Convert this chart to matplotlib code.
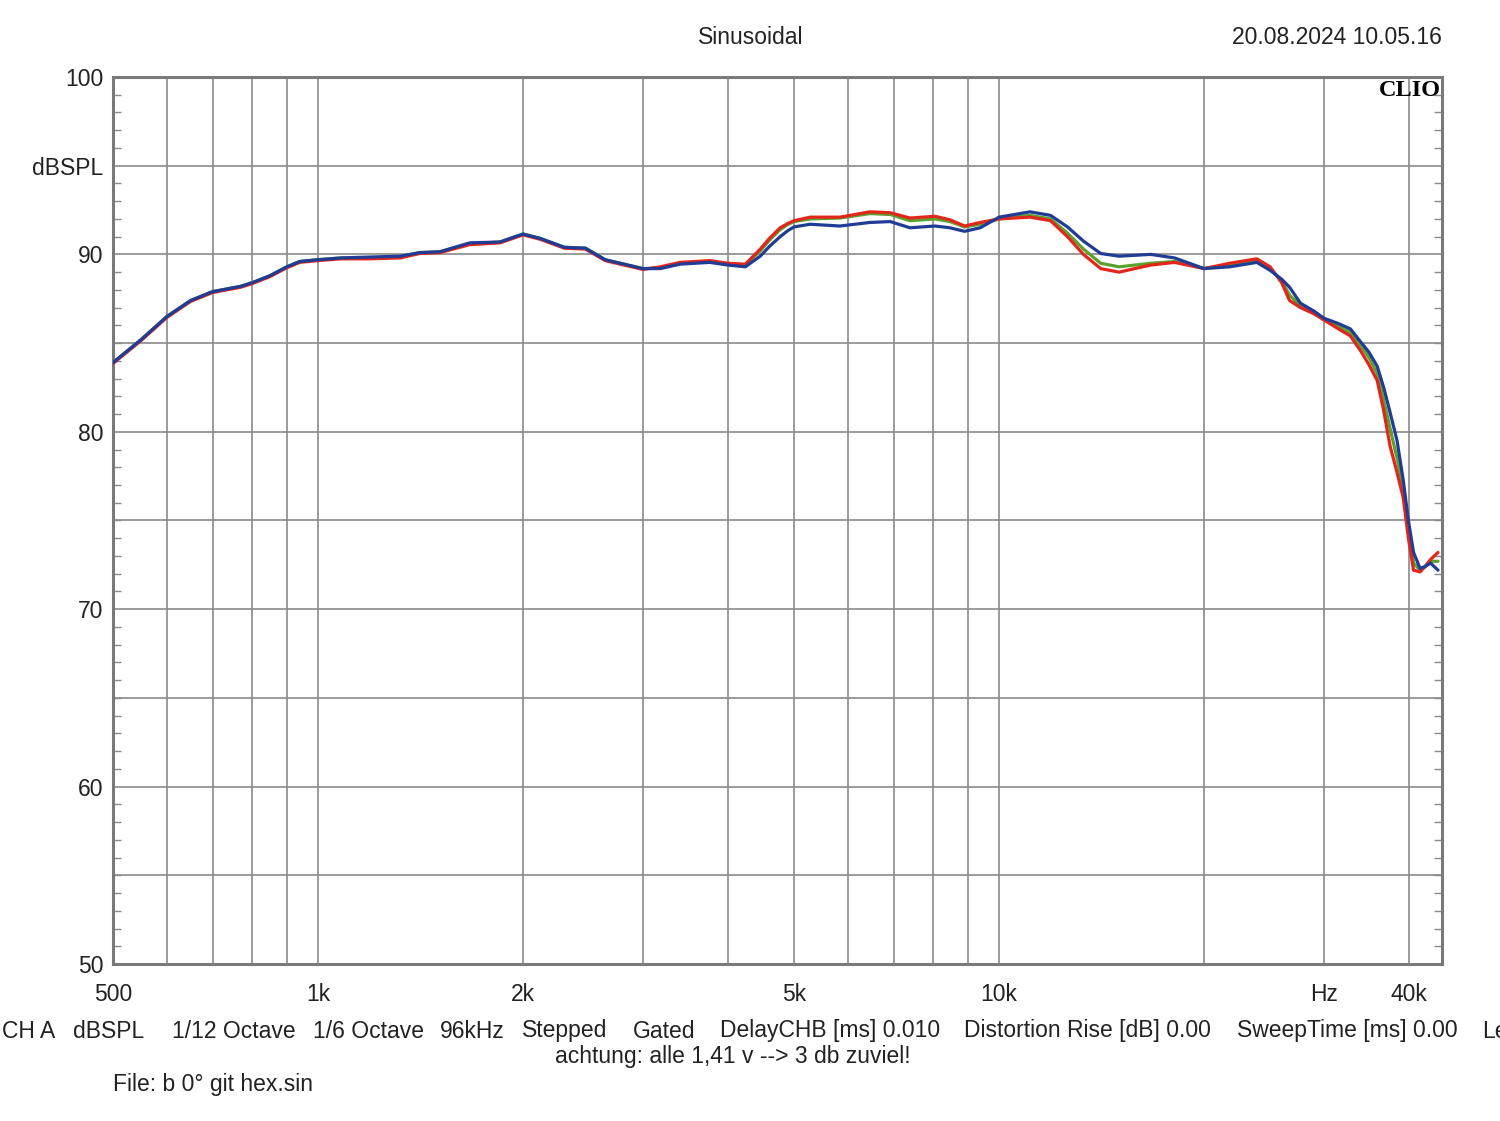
import numpy as np
import matplotlib.pyplot as plt
from matplotlib.ticker import FixedLocator, MultipleLocator, NullFormatter

plt.rcParams['font.family'] = ['Liberation Sans', 'DejaVu Sans']

# frequency grid (Hz)
freq = [500, 550, 600, 650, 700, 770, 800, 850, 900, 940, 1000, 1080, 1190,
        1320, 1410, 1510, 1670, 1850, 2000, 2120, 2300, 2470, 2640, 3000,
        3180, 3400, 3760, 4000, 4240, 4460, 4600, 4770, 4900, 5000, 5280,
        5840, 6460, 6920, 7400, 8050, 8470, 8900, 9380, 10000, 11100, 11900,
        12600, 13300, 14100, 15000, 16700, 18100, 20000, 21800, 23900, 25000,
        26000, 26700, 27700, 29000, 30000, 31500, 32800, 33900, 34900, 35900,
        36700, 37500, 38400, 39200, 39900, 40600, 41500, 42200, 43000, 44100]

blue = [83.9, 85.2, 86.5, 87.4, 87.9, 88.2, 88.4, 88.8, 89.3, 89.6, 89.7,
        89.8, 89.85, 89.9, 90.1, 90.15, 90.65, 90.7, 91.15, 90.9, 90.4, 90.35,
        89.7, 89.2, 89.2, 89.45, 89.55, 89.4, 89.3, 89.9, 90.45, 91.0, 91.35,
        91.55, 91.7, 91.6, 91.8, 91.85, 91.5, 91.6, 91.5, 91.3, 91.5, 92.1,
        92.4, 92.2, 91.55, 90.75, 90.05, 89.9, 90.0, 89.8, 89.2, 89.3, 89.55,
        89.1, 88.6, 88.15, 87.25, 86.8, 86.4, 86.1, 85.8, 85.1, 84.5, 83.7,
        82.5, 81.1, 79.5, 77.3, 75.0, 73.2, 72.3, 72.4, 72.6, 72.2]

green = [83.9, 85.2, 86.5, 87.4, 87.9, 88.2, 88.4, 88.8, 89.3, 89.6, 89.7,
         89.8, 89.8, 89.85, 90.1, 90.15, 90.6, 90.7, 91.15, 90.9, 90.4, 90.35,
         89.7, 89.2, 89.25, 89.5, 89.6, 89.45, 89.4, 90.2, 90.8, 91.4, 91.7,
         91.85, 92.0, 92.05, 92.3, 92.25, 91.9, 92.0, 91.85, 91.55, 91.7, 92.0,
         92.2, 92.0, 91.2, 90.3, 89.5, 89.3, 89.5, 89.6, 89.2, 89.4, 89.65,
         89.2, 88.5, 87.7, 87.1, 86.7, 86.35, 85.95, 85.6, 84.9, 84.2, 83.3,
         81.8, 80.2, 78.5, 76.8, 74.5, 72.6, 72.2, 72.4, 72.7, 72.7]

red = [83.85, 85.15, 86.45, 87.35, 87.85, 88.15, 88.35, 88.75, 89.25, 89.55,
       89.65, 89.75, 89.75, 89.8, 90.05, 90.1, 90.55, 90.65, 91.1, 90.85,
       90.35, 90.3, 89.65, 89.15, 89.3, 89.55, 89.65, 89.5, 89.45, 90.3, 90.9,
       91.5, 91.75, 91.9, 92.1, 92.1, 92.4, 92.35, 92.05, 92.15, 91.95, 91.6,
       91.8, 92.0, 92.1, 91.9, 91.0, 90.0, 89.2, 89.0, 89.4, 89.55, 89.2,
       89.5, 89.75, 89.3, 88.4, 87.4, 87.0, 86.65, 86.3, 85.8, 85.4, 84.6,
       83.8, 82.9, 81.2, 79.2, 77.7, 76.3, 74.0, 72.2, 72.1, 72.4, 72.8, 73.2]

xtick_pos = [500, 1000, 2000, 5000, 10000, 30000, 40000]
xtick_labels = ['500', '1k', '2k', '5k', '10k', 'Hz', '40k']
xgrid = [600, 700, 800, 900, 1000, 2000, 3000, 4000, 5000, 6000, 7000, 8000,
         9000, 10000, 20000, 30000, 40000]
ytick_pos = [50, 60, 70, 80, 90, 95, 100]
ytick_labels = ['50', '60', '70', '80', '90', 'dBSPL', '100']

W, H = 1500, 1121
fig = plt.figure(figsize=(W / 100, H / 100), dpi=100)
ax = fig.add_axes([113 / W, 1 - 964 / H, (1442 - 113) / W, (964 - 77) / H])

ax.set_xscale('log')
ax.set_xlim(500, 44700)
ax.set_ylim(50, 100)

grid_c = '#8a8a8a'
for f in xgrid:
    ax.axvline(f, color=grid_c, lw=1.2, zorder=1)
for v in range(55, 100, 5):
    ax.axhline(v, color=grid_c, lw=1.2, zorder=1)

line_kw = dict(lw=2.3, solid_joinstyle='round', solid_capstyle='round')
ax.plot(freq, green, color='#5aa12e', zorder=3, **line_kw)
ax.plot(freq, red, color='#e3261b', zorder=4, **line_kw)
ax.plot(freq, blue, color='#203c94', zorder=5, **line_kw)

fs = 16.5
ax.xaxis.set_major_locator(FixedLocator(xtick_pos))
ax.set_xticklabels(xtick_labels)
ax.xaxis.set_minor_formatter(NullFormatter())
ax.xaxis.set_minor_locator(FixedLocator([]))
ax.tick_params(axis='x', which='major', length=0, pad=14, labelsize=fs,
               labelcolor='#222222')

ax.yaxis.set_major_locator(FixedLocator(ytick_pos))
ax.set_yticklabels(ytick_labels)
ax.yaxis.set_minor_locator(MultipleLocator(1))
ax.tick_params(axis='y', which='major', length=0, pad=7, labelsize=fs,
               labelcolor='#222222')
ax.tick_params(axis='y', which='minor', direction='in', length=6, width=1,
               color=grid_c, left=True, right=True)

for s in ax.spines.values():
    s.set_color('#7a7a7a')
    s.set_linewidth(2.2)

ax.text(0.999, 0.997, 'CLIO', transform=ax.transAxes, ha='right', va='top',
        fontsize=17.5, fontweight='bold', family='Liberation Serif', zorder=6)


def px(x, y):
    return x / W, 1 - y / H


fig.text(*px(751, 38), 'Sinusoidal', ha='center', va='center', fontsize=fs,
         color='#222222')
fig.text(*px(1442, 38), '20.08.2024 10.05.16', ha='right', va='center',
         fontsize=fs, color='#222222')

bottom_items = [(2, 'CH A'), (73, 'dBSPL'), (172, '1/12 Octave'),
                (313, '1/6 Octave'), (440, '96kHz'), (522, 'Stepped'),
                (633, 'Gated'), (720, 'DelayCHB [ms] 0.010'),
                (964, 'Distortion Rise [dB] 0.00'),
                (1237, 'SweepTime [ms] 0.00'), (1482, 'Le')]
for x, t in bottom_items:
    fig.text(*px(x, 1031), t, ha='left', va='center', fontsize=fs,
             color='#222222')
fig.text(*px(733, 1057), 'achtung: alle 1,41 v --> 3 db zuviel!',
         ha='center', va='center', fontsize=fs, color='#222222')
fig.text(*px(113, 1084), 'File: b 0° git hex.sin', ha='left', va='center',
         fontsize=fs, color='#222222')

fig.savefig('out.png', dpi=100)
